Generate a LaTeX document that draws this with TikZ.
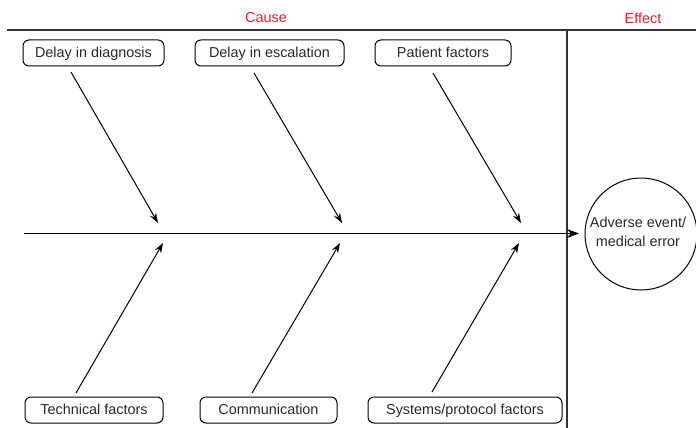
\documentclass[tikz,border=0pt]{standalone}
\usepackage{fontspec}
\setmainfont{Liberation Sans}
\usetikzlibrary{arrows.meta}
\definecolor{causered}{RGB}{232,28,36}
\definecolor{txt}{RGB}{40,40,40}
\tikzset{
  factor/.style={draw=black, line width=1pt, rounded corners=6pt, minimum height=26pt, inner sep=0pt, text height=10.4pt, text depth=1.2pt, text=txt, font=\fontsize{14.4}{17}\selectfont},
  head/.style={text=causered, font=\fontsize{14.4}{17}\selectfont},
  bone/.style={line width=1pt, -{Stealth[length=10pt,width=7pt]}},
  spine/.style={line width=1.6pt, -{Stealth[length=12pt,width=9pt]}},
  frame/.style={line width=1.1pt, draw=black!80},
}
\begin{document}
\begin{tikzpicture}[x=1pt,y=-1pt]
\useasboundingbox (0,0) rectangle (696,428);
% frame lines
\coordinate (hl) at (7,30);
\coordinate (hr) at (696,30);
\coordinate (vt) at (567,30);
\coordinate (vb) at (567,428);
\draw[frame] (hl) -- (hr);
\draw[frame] (vt) -- (vb);
\node[head] (cause) at (266,18) {Cause};
\node[head] (effect) at (643,18) {Effect};
% boxes
\node[factor, minimum width=141pt] (b1) at (93.5,53) {Delay in diagnosis};
\node[factor, minimum width=149pt] (b2) at (269.5,53) {Delay in escalation};
\node[factor, minimum width=136pt] (b3) at (443,53) {Patient factors};
\node[factor, minimum width=138pt] (b4) at (94,410) {Technical factors};
\node[factor, minimum width=137pt] (b5) at (268.5,410) {Communication};
\node[factor, minimum width=194pt] (b6) at (465,410) {Systems/protocol factors};
% effect circle
\node[draw=black, line width=1pt, circle, minimum size=112pt, inner sep=0pt] (ev) at (641,234) {};
\node[text=txt, font=\fontsize{14.4}{19}\selectfont, align=center] (evt) at (638,232) {Adverse event/\\medical error};
% spine
\coordinate (ms) at (24,233.5);
\coordinate (me) at (579,233.5);
\draw[spine] (ms) -- (me);
% bone coordinates
\coordinate (s1) at (71,72);   \coordinate (t1) at (158,223);
\coordinate (s2) at (254,73);  \coordinate (t2) at (342,223);
\coordinate (s3) at (433,73);  \coordinate (t3) at (521,223);
\coordinate (s4) at (76,393);  \coordinate (t4) at (163,243);
\coordinate (s5) at (252,393); \coordinate (t5) at (340,243);
\coordinate (s6) at (432,392); \coordinate (t6) at (519,243);
\draw[bone] (s1) -- (t1);
\draw[bone] (s2) -- (t2);
\draw[bone] (s3) -- (t3);
\draw[bone] (s4) -- (t4);
\draw[bone] (s5) -- (t5);
\draw[bone] (s6) -- (t6);
\end{tikzpicture}
\end{document}
